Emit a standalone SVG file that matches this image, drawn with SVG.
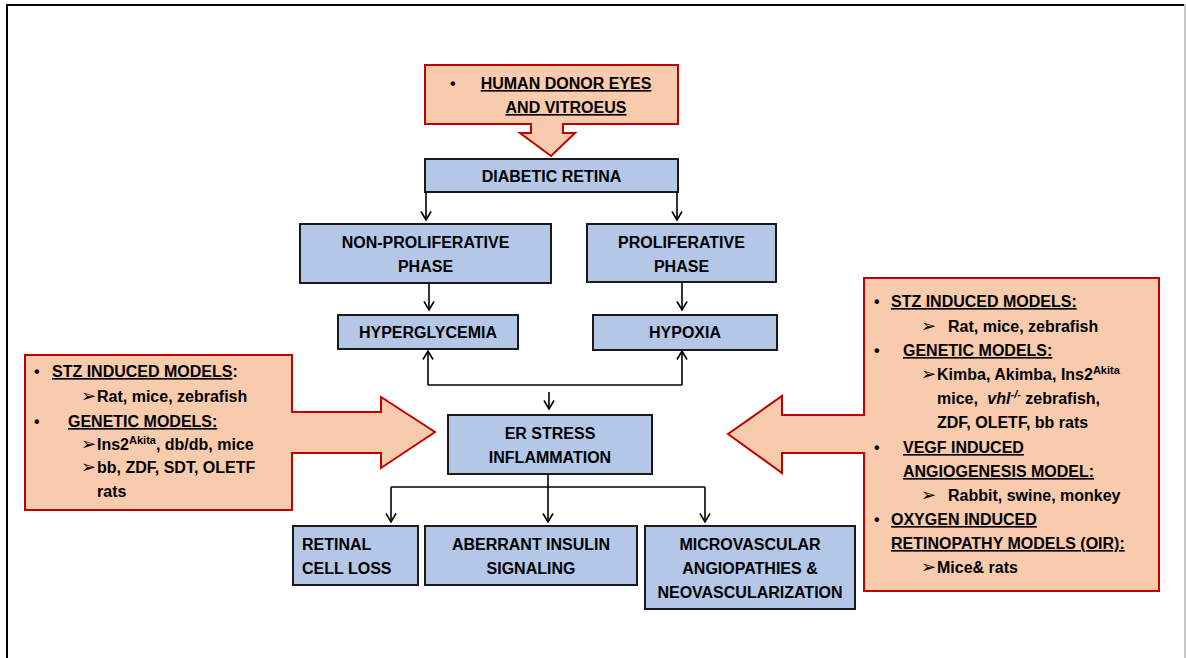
<svg xmlns="http://www.w3.org/2000/svg" width="1186" height="658" viewBox="0 0 1186 658">
<style>
.node rect{fill:#b4c7e7;stroke:#1a1a1a;stroke-width:2}
.callout path{fill:#f8cbad;stroke:#c00000;stroke-width:2}
text{font-family:"Liberation Sans",Arial,sans-serif;font-weight:bold;font-size:16px;fill:#000}
.c{text-anchor:middle}
.u{text-decoration:underline}
.ar{font-family:"DejaVu Sans",sans-serif;font-size:18px;font-weight:normal}
.sup{font-size:11px}
.conn line,.conn polyline{stroke:#000;stroke-width:1.6;fill:none}
</style>
<defs>
<marker id="ah" markerUnits="userSpaceOnUse" markerWidth="12" markerHeight="12" viewBox="0 0 12 12" refX="10" refY="6" orient="auto">
<path d="M1.5,1 L10,6 L1.5,11" fill="none" stroke="#000" stroke-width="1.6"/>
</marker>
</defs>
<rect width="1186" height="658" fill="#fff"/>
<g id="frame" fill="none">
<line x1="6" y1="5" x2="1186" y2="5" stroke="#000" stroke-width="2"/>
<line x1="7" y1="4" x2="7" y2="658" stroke="#000" stroke-width="2"/>
<line x1="1185" y1="4" x2="1185" y2="658" stroke="#c8c8c8" stroke-width="2"/>
</g>

<g id="callout-top" class="callout">
<path d="M425,65 H678 V124 H563 V133 H575 L551,156 L520,133 H531 V124 H425 Z"/>
<text x="450" y="89">•</text>
<text class="c u" x="566" y="89">HUMAN DONOR EYES</text>
<text class="c u" x="566" y="113">AND VITROEUS</text>
</g>

<g id="callout-left" class="callout">
<path d="M25,355 H292 V412 H381 V397 L435,432 L381,468 V453 H292 V510 H25 Z"/>
<text x="34" y="377">•</text>
<text x="52" y="377"><tspan class="u">STZ INDUCED MODELS</tspan>:</text>
<text x="81" y="402"><tspan class="ar">➢</tspan><tspan x="97">Rat, mice, zebrafish</tspan></text>
<text x="34" y="427">•</text>
<text class="u" x="68" y="427">GENETIC MODELS:</text>
<text x="81" y="450"><tspan class="ar">➢</tspan><tspan x="97">Ins2</tspan><tspan class="sup" dy="-6">Akita</tspan><tspan dy="6">, db/db, mice</tspan></text>
<text x="81" y="473"><tspan class="ar">➢</tspan><tspan x="97">bb, ZDF, SDT, OLETF</tspan></text>
<text x="97" y="497">rats</text>
</g>

<g id="callout-right" class="callout">
<path d="M864,278 H1159 V591 H864 V453 H782 V473 L728,434 L782,396 V415 H864 Z"/>
<text x="874" y="307">•</text>
<text class="u" x="891" y="307">STZ INDUCED MODELS:</text>
<text x="921" y="332"><tspan class="ar">➢</tspan><tspan x="948">Rat, mice, zebrafish</tspan></text>
<text x="874" y="356">•</text>
<text class="u" x="903" y="356">GENETIC MODELS:</text>
<text x="921" y="380"><tspan class="ar">➢</tspan><tspan x="937">Kimba, Akimba, Ins2</tspan><tspan class="sup" dy="-6">Akita</tspan></text>
<text x="937" y="404">mice, <tspan font-style="italic" dx="5">vhl</tspan><tspan class="sup" font-style="italic" dy="-6">-/-</tspan><tspan dy="6"> zebrafish,</tspan></text>
<text x="937" y="428">ZDF, OLETF, bb rats</text>
<text x="874" y="453">•</text>
<text class="u" x="903" y="453">VEGF INDUCED</text>
<text class="u" x="903" y="477">ANGIOGENESIS MODEL:</text>
<text x="921" y="501"><tspan class="ar">➢</tspan><tspan x="948">Rabbit, swine, monkey</tspan></text>
<text x="874" y="525">•</text>
<text class="u" x="891" y="525">OXYGEN INDUCED</text>
<text class="u" x="891" y="549">RETINOPATHY MODELS (OIR):</text>
<text x="921" y="573"><tspan class="ar">➢</tspan><tspan x="937">Mice&amp; rats</tspan></text>
</g>

<g id="diabetic-retina" class="node">
<rect x="425" y="159" width="253" height="33"/>
<text class="c" x="551.5" y="182">DIABETIC RETINA</text>
</g>
<g id="non-proliferative" class="node">
<rect x="300" y="224" width="251" height="59"/>
<text class="c" x="425.5" y="248">NON-PROLIFERATIVE</text>
<text class="c" x="425.5" y="272">PHASE</text>
</g>
<g id="proliferative" class="node">
<rect x="587" y="224" width="189" height="58"/>
<text class="c" x="681.5" y="248">PROLIFERATIVE</text>
<text class="c" x="681.5" y="272">PHASE</text>
</g>
<g id="hyperglycemia" class="node">
<rect x="338" y="315" width="180" height="34"/>
<text class="c" x="428" y="338">HYPERGLYCEMIA</text>
</g>
<g id="hypoxia" class="node">
<rect x="593" y="315" width="184" height="35"/>
<text class="c" x="685" y="338">HYPOXIA</text>
</g>
<g id="er-stress" class="node">
<rect x="448" y="415" width="204" height="59"/>
<text class="c" x="550" y="439">ER STRESS</text>
<text class="c" x="550" y="463">INFLAMMATION</text>
</g>
<g id="retinal-cell-loss" class="node">
<rect x="293" y="526" width="125" height="59"/>
<text x="302" y="550">RETINAL</text>
<text x="302" y="574">CELL LOSS</text>
</g>
<g id="aberrant-insulin" class="node">
<rect x="425" y="526" width="212" height="59"/>
<text class="c" x="531" y="550">ABERRANT INSULIN</text>
<text class="c" x="531" y="574">SIGNALING</text>
</g>
<g id="microvascular" class="node">
<rect x="645" y="526" width="210" height="83"/>
<text class="c" x="750" y="550">MICROVASCULAR</text>
<text class="c" x="750" y="574">ANGIOPATHIES &amp;</text>
<text class="c" x="750" y="598">NEOVASCULARIZATION</text>
</g>

<g id="connectors" class="conn">
<line x1="426" y1="192" x2="426" y2="220" marker-end="url(#ah)"/>
<line x1="677" y1="192" x2="677" y2="220" marker-end="url(#ah)"/>
<line x1="429" y1="283" x2="429" y2="310" marker-end="url(#ah)"/>
<line x1="682" y1="282" x2="682" y2="310" marker-end="url(#ah)"/>
<polyline points="428,385 682,385"/>
<line x1="428" y1="385" x2="428" y2="351" marker-end="url(#ah)"/>
<line x1="682" y1="385" x2="682" y2="351" marker-end="url(#ah)"/>
<line x1="549" y1="392" x2="549" y2="409" marker-end="url(#ah)"/>
<polyline points="391,487 705,487"/>
<line x1="548" y1="474" x2="548" y2="522" marker-end="url(#ah)"/>
<line x1="391" y1="487" x2="391" y2="522" marker-end="url(#ah)"/>
<line x1="705" y1="487" x2="705" y2="522" marker-end="url(#ah)"/>
</g>
</svg>
